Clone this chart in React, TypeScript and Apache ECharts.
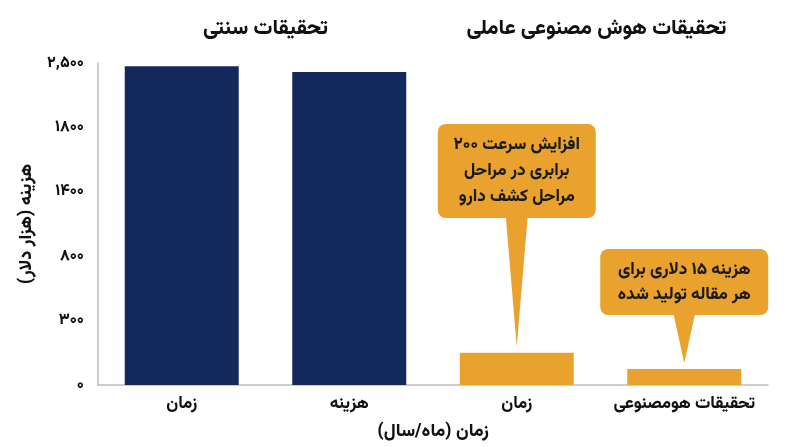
import React, { useEffect, useRef } from "react";
import * as echarts from "echarts";

// categories along the x axis
const categories = ["زمان", "هزینه", "زمان", "تحقیقات هومصنوعی"];
// y tick labels, evenly spaced (the axis is not linear)
const yTickLabels = ["۰", "۳۰۰", "۸۰۰", "۱۴۰۰", "۱۸۰۰", "۲,۵۰۰"];
// bar heights, measured in tick steps (0 .. 5)
const barValues = [4.95, 4.86, 0.5, 0.25];
const barColors = ["#13295b", "#13295b", "#e8a22d", "#e8a22d"];

const groupTitles = ["تحقیقات سنتی", "تحقیقات هوش مصنوعی عاملی"];
const callouts = [
  { bar: 2, text: "افزایش سرعت ۲۰۰\nبرابری در مراحل\nمراحل کشف دارو" },
  { bar: 3, text: "هزینه ۱۵ دلاری برای\nهر مقاله تولید شده" },
];

const FONT = "Vazirmatn, 'Noto Sans Arabic', 'Noto Naskh Arabic', 'DejaVu Sans', sans-serif";
const ORANGE = "#e8a22d";

const App: React.FC = () => {
  const chartRef = useRef<HTMLDivElement>(null);

  useEffect(() => {
    if (!chartRef.current) return;
    const chart = echarts.init(chartRef.current, null, { renderer: "svg" });

    const option: any = {
      animation: false,
      textStyle: { fontFamily: FONT },
      grid: {
        left: 98,
        right: 32,
        top: 63,
        bottom: 62,
        outerBoundsMode: "none",
      },
      xAxis: {
        type: "category",
        data: categories,
        name: "زمان (ماه/سال)",
        nameLocation: "middle",
        nameGap: 38,
        nameTextStyle: { fontSize: 18, fontWeight: 800, color: "#111" },
        axisLine: { lineStyle: { color: "#bdbdbd", width: 1.5 } },
        axisTick: { show: false },
        axisLabel: {
          interval: 0,
          fontSize: 17,
          fontWeight: 800,
          color: "#111",
          margin: 10,
        },
      },
      yAxis: {
        type: "value",
        min: 0,
        max: 5,
        interval: 1,
        name: "هزینه (هزار دلار)",
        nameLocation: "middle",
        nameGap: 62,
        nameRotate: 90,
        nameTextStyle: { fontSize: 18, fontWeight: 800, color: "#111" },
        axisLine: { show: true, lineStyle: { color: "#bdbdbd", width: 1.5 } },
        axisTick: { show: false },
        splitLine: { show: false },
        axisLabel: {
          fontSize: 16,
          fontWeight: 800,
          color: "#111",
          margin: 14,
          formatter: (v: number) => yTickLabels[Math.round(v)] ?? "",
        },
      },
      series: [
        {
          type: "bar",
          barWidth: 114,
          data: barValues.map((v, i) => ({
            value: v,
            itemStyle: { color: barColors[i] },
          })),
        },
      ],
    };
    chart.setOption(option);

    // titles above the two bar groups
    const cx = [0, 1, 2, 3].map(
      (i) => chart.convertToPixel({ xAxisIndex: 0 }, i) as number
    );
    const titleCenters = [(cx[0] + cx[1]) / 2, (cx[2] + cx[3]) / 2 - 4];

    const graphics: any[] = groupTitles.map((t, i) => ({
      type: "text",
      x: titleCenters[i],
      y: 28,
      style: {
        text: t,
        fill: "#111",
        font: `800 21px ${FONT}`,
        align: "center",
        verticalAlign: "middle",
      },
    }));

    const boxes = [
      { w: 158, h: 94, top: 124, lh: 26 },
      { w: 168, h: 66, top: 249, lh: 25 },
    ];
    callouts.forEach((c, i) => {
      const [px, py] = chart.convertToPixel({ seriesIndex: 0 }, [
        c.bar,
        barValues[c.bar],
      ]) as number[];
      const b = boxes[i];
      const bottom = b.top + b.h;
      graphics.push({
        type: "polygon",
        shape: {
          points: [
            [px - 11, bottom - 2],
            [px + 11, bottom - 2],
            [px, py - 6],
          ],
        },
        style: { fill: ORANGE },
      });
      graphics.push({
        type: "rect",
        shape: { x: px - b.w / 2, y: b.top, width: b.w, height: b.h, r: 8 },
        style: { fill: ORANGE },
      });
      graphics.push({
        type: "text",
        x: px,
        y: b.top + b.h / 2,
        style: {
          text: c.text,
          fill: "#1a1a1a",
          font: `800 17px ${FONT}`,
          lineHeight: b.lh,
          align: "center",
          verticalAlign: "middle",
        },
      });
    });

    chart.setOption({ graphic: graphics });

    return () => {
      chart.dispose();
    };
  }, []);

  return (
    <div
      ref={chartRef}
      style={{ position: "fixed", left: 0, top: 0, width: "800px", height: "447px" }}
    />
  );
};

export default App;
